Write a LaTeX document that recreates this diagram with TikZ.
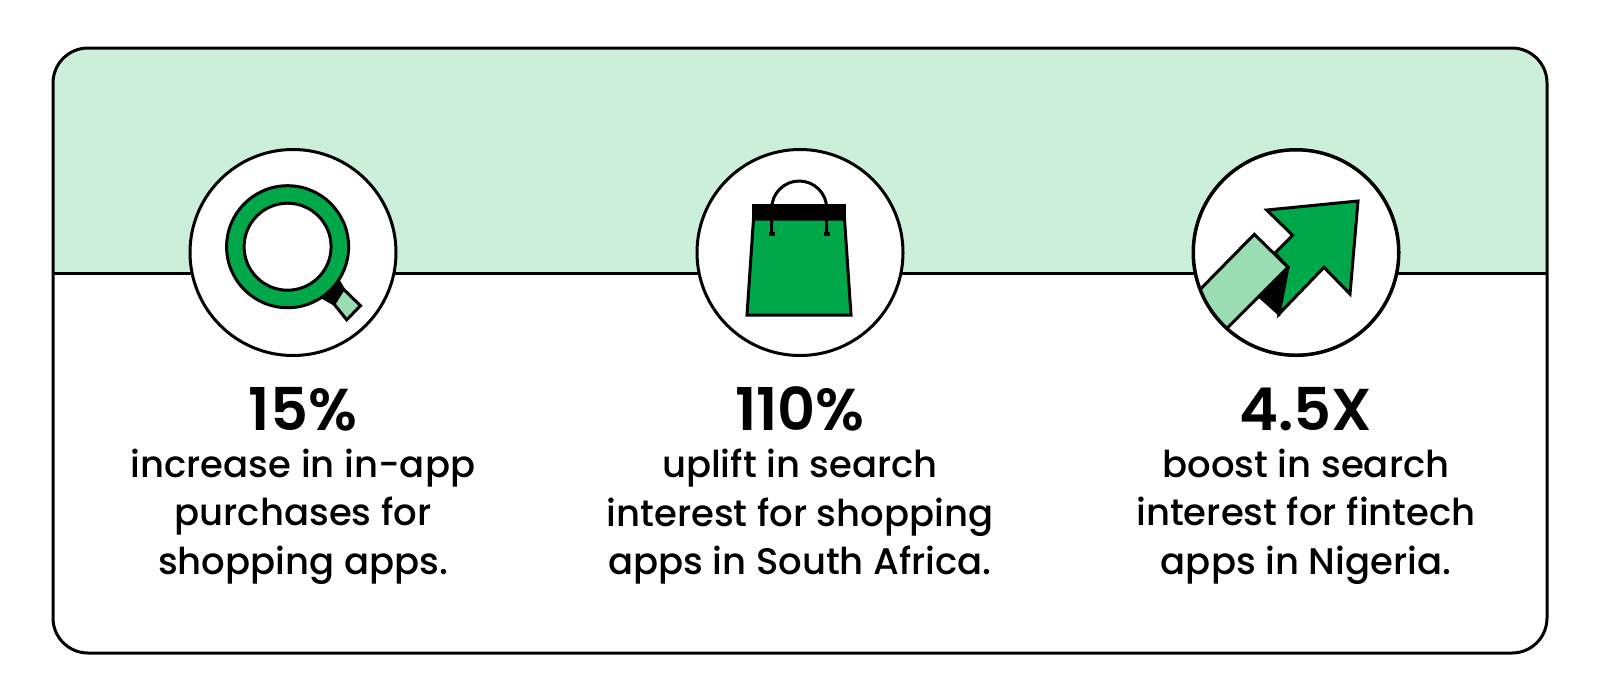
\documentclass[tikz,border=0pt]{standalone}
\usepackage{fontspec}
\setmainfont{Poppins Medium}
\newfontfamily\headfont{Poppins SemiBold}
\usepackage{xcolor}
\definecolor{bandgreen}{HTML}{CCEFDA}
\definecolor{iconleaf}{HTML}{00A84A}
\definecolor{iconmint}{HTML}{9BDDB2}
\tikzset{
    outline/.style={draw=black,line width=1.5pt,line join=miter},
    badge/.style={outline,circle,fill=white,minimum size=103pt,inner sep=0pt},
    figure/.style={anchor=base,font=\fontsize{29.5}{34}\headfont\selectfont},
    caption/.style={anchor=north,align=center,font=\fontsize{18.5}{24.2}\selectfont}
}
\begin{document}
\begin{tikzpicture}[x=0.5pt,y=-0.5pt]
        \useasboundingbox (0,0) rectangle (1600,698);
        % card and band
        \begin{scope}
            \clip[rounded corners=17.5pt] (53,48) rectangle (1547,653);
            \fill[bandgreen] (53,48) rectangle (1547,273);
        \end{scope}
        \draw[line width=1.5pt] (53,273)--(1547,273);
        \draw[line width=1.5pt,rounded corners=17.5pt] (53,48) rectangle (1547,653);
        \node[badge] (lens) at (293,252.5) {};
        \node[badge] (bag) at (800,252.5) {};
        \node[badge] (trend) at (1296,252.5) {};
        % magnifier
        \draw[outline,fill=black] (320,296)--(338,280)--(343.3,289)--(334,304)--cycle;
        \draw[outline,fill=iconmint] (343.3,289)--(360.5,305.7)--(346.7,319.8)--(334,304)--cycle;
        \draw[outline,fill=iconleaf] (287.6,246.7) circle (61);
        \draw[outline,fill=white] (287.6,246.7) circle (43.5);
        % bag
        \draw[outline,fill=iconleaf] (753.5,219)--(844.5,219)--(851,315)--(747,315)--cycle;
        \fill (752.3,204.3) rectangle (846,219.5);
        \draw[outline] (771.7,208.5) arc (180:360:27.5) (771.7,208.5)--(771.7,233) (826.7,208.5)--(826.7,233);
        \draw[line width=2pt] (769,233.7)--(775,233.7) (824,233.7)--(830,233.7);
        % arrow
        \draw[outline,fill=black] (1288,268)--(1260,297)--(1279,314)--cycle;
        \draw[outline,fill=iconleaf] (1358,201)--(1266.7,210)--(1292.7,235.3)--(1275,253)--(1288,267.3)--(1279,314)--(1324,267.3)--(1350,294)--cycle;
        \begin{scope}
            \clip (trend.center) circle (103);
            \draw[outline,fill=iconmint] (1254.3,234.3)--(1288,267.3)--(1195,360)--(1170,320)--cycle;
        \end{scope}
        \draw[line width=1.5pt] (trend.center) circle (102.5);
        % figures and captions
        \node[figure] (lensfig) at (303,430.5) {15\%};
        \node[figure] (bagfig) at (800,430.5) {110\%};
        \node[figure] (trendfig) at (1306,430.5) {4.5X};
        \node[caption] (lenstext) at (303,442) {increase in in-app\\purchases for\\shopping apps.};
        \node[caption] (bagtext) at (800,442) {uplift in search\\interest for shopping\\apps in South Africa.};
        \node[caption] (trendtext) at (1306,442) {boost in search\\interest for fintech\\apps in Nigeria.};
\end{tikzpicture}
\end{document}
